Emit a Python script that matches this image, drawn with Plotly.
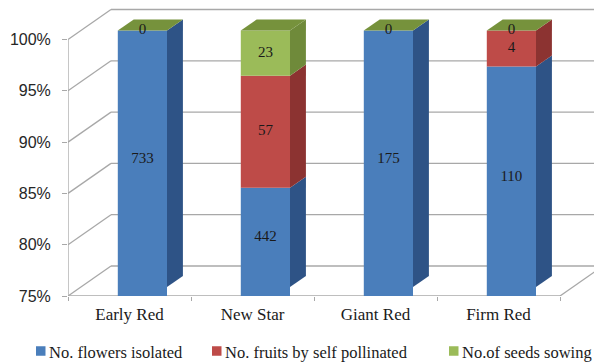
import plotly.graph_objects as go

# ---- data ----
categories = ["Early Red", "New Star", "Giant Red", "Firm Red"]
flowers_isolated = [733, 442, 175, 110]
fruits_self_pollinated = [0, 57, 0, 4]
seeds_sowing = [0, 23, 0, 0]
series_names = ["No. flowers isolated", "No. fruits by self pollinated", "No.of seeds sowing"]
y_tick_values = [75, 80, 85, 90, 95, 100]
y_tick_text = ["75%", "80%", "85%", "90%", "95%", "100%"]

# ---- styling ----
front_colors = ["#4A7EBB", "#BE4B48", "#9BBB59"]
side_colors = ["#2E5386", "#8C3331", "#6F8A3A"]
top_colors = ["#3E6AA0", "#A23F3C", "#76923C"]
grid_color = "#A8A8A8"
text_color = "#1a1a1a"

# ---- geometry (pixels) ----
W, H = 594, 363
ML, MR, MT, MB = 68, 0, 0, 67
PX_CAT = 123.0          # pixels per category slot
PX_PCT = 10.26          # pixels per percentage point
DEPTH_PX = (43.0, -30.0)  # oblique depth of the floor/walls
BAR_FRONT, BAR_BACK = 0.30, 0.67  # bar depth as fraction of wall depth
BAR_W = 0.4
Y_FLOOR = 75.0

plot_w = W - ML - MR
plot_h = H - MT - MB
x_range = [-0.5, -0.5 + plot_w / PX_CAT]
y_range = [Y_FLOOR, Y_FLOOR + plot_h / PX_PCT]

# depth vector in data units
DX = DEPTH_PX[0] / PX_CAT
DY = -DEPTH_PX[1] / PX_PCT
fdx, fdy = BAR_FRONT * DX, BAR_FRONT * DY
sdx, sdy = (BAR_BACK - BAR_FRONT) * DX, (BAR_BACK - BAR_FRONT) * DY

series = [flowers_isolated, fruits_self_pollinated, seeds_sowing]
n = len(categories)
totals = [sum(s[i] for s in series) for i in range(n)]
pct = [[100.0 * s[i] / totals[i] for i in range(n)] for s in series]

# stacked starts of each segment
starts = []
cum = [0.0] * n
for p in pct:
    starts.append(list(cum))
    cum = [cum[i] + p[i] for i in range(n)]

fig = go.Figure()

# ---- walls, floor and gridlines ----
shapes = []
x_left, x_right = -0.5, n - 0.5
line = dict(color=grid_color, width=1.3)
for v in y_tick_values:
    shapes.append(dict(type="line", xref="x", yref="y", x0=x_left + DX, x1=x_right + DX,
                       y0=v + DY, y1=v + DY, line=line, layer="below"))
    shapes.append(dict(type="line", xref="x", yref="y", x0=x_left, x1=x_left + DX,
                       y0=v, y1=v + DY, line=line, layer="below"))
shapes.append(dict(type="line", xref="x", yref="y", x0=x_left, x1=x_left,
                   y0=y_tick_values[0], y1=y_tick_values[-1], line=line, layer="below"))
shapes.append(dict(type="line", xref="x", yref="y", x0=x_left, x1=x_right,
                   y0=Y_FLOOR, y1=Y_FLOOR, line=line, layer="below"))
shapes.append(dict(type="line", xref="x", yref="y", x0=x_right, x1=x_right + DX,
                   y0=Y_FLOOR, y1=Y_FLOOR + DY, line=line, layer="below"))

# ---- bars: front faces ----
for k, p in enumerate(pct):
    fig.add_trace(go.Bar(
        x=[i + fdx for i in range(n)],
        y=p,
        base=[starts[k][i] + fdy for i in range(n)],
        width=BAR_W,
        marker=dict(color=front_colors[k], line=dict(width=0)),
        name=series_names[k],
        showlegend=False,
        hoverinfo="skip",
    ))

# ---- bars: side and top faces ----
for i in range(n):
    xl = i + fdx - BAR_W / 2
    xr = i + fdx + BAR_W / 2
    for k, p in enumerate(pct):
        if p[i] <= 0:
            continue
        y0 = max(starts[k][i], Y_FLOOR) + fdy
        y1 = starts[k][i] + p[i] + fdy
        fig.add_trace(go.Scatter(
            x=[xr, xr, xr + sdx, xr + sdx, xr],
            y=[y0, y1, y1 + sdy, y0 + sdy, y0],
            fill="toself", fillcolor=side_colors[k], mode="lines",
            line=dict(width=0, color=side_colors[k]),
            showlegend=False, hoverinfo="skip",
        ))
    ytop = cum[i] + fdy
    fig.add_trace(go.Scatter(
        x=[xl, xr, xr + sdx, xl + sdx, xl],
        y=[ytop, ytop, ytop + sdy, ytop + sdy, ytop],
        fill="toself", fillcolor=top_colors[-1], mode="lines",
        line=dict(width=0, color=top_colors[-1]),
        showlegend=False, hoverinfo="skip",
    ))

# ---- value labels (centred on the visible part of each front face) ----
lx, ly, lt = [], [], []
for k, s in enumerate(series):
    for i in range(n):
        if k == 1 and s[i] == 0:
            continue
        lo = max(starts[k][i], Y_FLOOR)
        hi = starts[k][i] + pct[k][i]
        lx.append(i + fdx)
        ly.append((lo + hi) / 2 + fdy)
        lt.append(str(s[i]))
fig.add_trace(go.Scatter(
    x=lx, y=ly, text=lt, mode="text",
    textfont=dict(family="Liberation Serif", size=15, color=text_color),
    showlegend=False, hoverinfo="skip", cliponaxis=False,
))

# ---- legend row below the chart ----
legend_sq_px = [36, 212, 449]
legend_y_px = 351
SQ = 9.5


def px_to_paper(px, py):
    return (px - ML) / plot_w, (MT + plot_h - py) / plot_h


annotations = []
for k, name in enumerate(series_names):
    x0, y0 = px_to_paper(legend_sq_px[k], legend_y_px + SQ / 2)
    x1, y1 = px_to_paper(legend_sq_px[k] + SQ, legend_y_px - SQ / 2)
    shapes.append(dict(type="rect", xref="paper", yref="paper", x0=x0, x1=x1, y0=y0, y1=y1,
                       fillcolor=front_colors[k], line=dict(width=0), layer="above"))
    tx, ty = px_to_paper(legend_sq_px[k] + SQ + 1.5, legend_y_px + 1)
    annotations.append(dict(xref="paper", yref="paper", x=tx, y=ty, text=name,
                            showarrow=False, xanchor="left", yanchor="middle",
                            font=dict(family="Liberation Serif", size=16.5, color=text_color)))

fig.update_layout(
    width=W, height=H,
    margin=dict(l=ML, r=MR, t=MT, b=MB, pad=0, autoexpand=False),
    paper_bgcolor="white", plot_bgcolor="white",
    barmode="overlay",
    hovermode=False,
    shapes=shapes,
    annotations=annotations,
    showlegend=False,
    xaxis=dict(
        range=x_range, showgrid=False, zeroline=False, showline=False,
        tickmode="array", tickvals=list(range(n)), ticktext=categories, ticks="",
        ticklabelstandoff=6,
        tickfont=dict(family="Liberation Serif", size=17, color=text_color),
        minor=dict(tickmode="array", tickvals=[i - 0.5 for i in range(n + 1)],
                   ticks="outside", ticklen=4, tickcolor=grid_color, tickwidth=1.3),
        fixedrange=True,
    ),
    yaxis=dict(
        range=y_range, showgrid=False, zeroline=False, showline=False,
        tickmode="array", tickvals=y_tick_values, ticktext=y_tick_text,
        ticks="outside", ticklen=5, tickcolor=grid_color, tickwidth=1.3,
        ticklabelstandoff=8,
        tickfont=dict(family="Liberation Sans", size=16, color="#262626"),
        fixedrange=True,
    ),
)

fig.write_html("out.html")
